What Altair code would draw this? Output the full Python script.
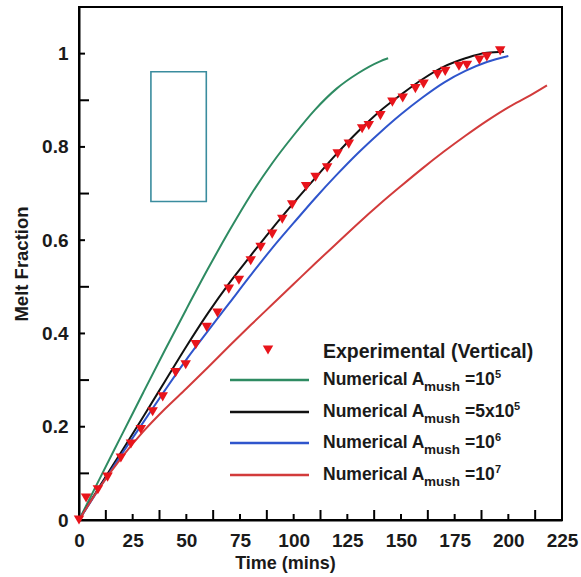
import altair as alt
import pandas as pd

# ---------------- data ----------------
green_time = [0, 10, 20, 30, 40, 50, 60, 70, 80, 90, 100, 110, 120, 130, 140, 144]
green_melt = [0, 0.092, 0.183, 0.274, 0.364, 0.452, 0.538, 0.62, 0.697, 0.765, 0.825, 0.88, 0.925, 0.958, 0.983, 0.99]

black_time = [0, 10, 20, 30, 40, 50, 60, 70, 80, 90, 100, 110, 120, 130, 140, 150, 160, 170, 180, 190, 198]
black_melt = [0, 0.075, 0.148, 0.222, 0.297, 0.372, 0.443, 0.508, 0.567, 0.625, 0.68, 0.733, 0.785, 0.833,
              0.876, 0.912, 0.945, 0.972, 0.99, 1.002, 1.004]

blue_time = [0, 10, 20, 30, 40, 50, 60, 70, 80, 90, 100, 110, 120, 130, 140, 150, 160, 170, 180, 190, 200]
blue_melt = [0, 0.072, 0.142, 0.21, 0.278, 0.344, 0.405, 0.465, 0.525, 0.583, 0.637, 0.69, 0.74, 0.787,
             0.83, 0.87, 0.906, 0.938, 0.963, 0.982, 0.995]

red_time = [0, 10, 20, 30, 40, 50, 60, 70, 80, 90, 100, 110, 120, 130, 140, 150, 160, 170, 180, 190, 200, 210, 218]
red_melt = [0, 0.072, 0.135, 0.19, 0.238, 0.282, 0.327, 0.373, 0.418, 0.462, 0.506, 0.55, 0.593, 0.636,
            0.677, 0.716, 0.754, 0.79, 0.824, 0.856, 0.885, 0.91, 0.932]

exp_time = [0, 3.3, 8.8, 13.3, 19.5, 24.2, 28.8, 34.3, 39, 45, 49.7, 54.4, 59.5, 64.5, 69.8, 74.5, 80, 84.6,
            90, 94.7, 99.3, 105.8, 110.2, 115.6, 120.5, 125.7, 131.9, 135, 140.4, 146, 150.8, 156.7, 160.5,
            167, 170.6, 177, 180.7, 186.5, 190, 196.2]
exp_melt = [0, 0.047, 0.065, 0.092, 0.133, 0.163, 0.194, 0.232, 0.264, 0.316, 0.333, 0.376, 0.413, 0.444,
            0.495, 0.514, 0.556, 0.585, 0.613, 0.645, 0.676, 0.715, 0.735, 0.755, 0.785, 0.806, 0.839, 0.846,
            0.867, 0.896, 0.905, 0.925, 0.935, 0.955, 0.962, 0.973, 0.975, 0.986, 0.993, 1.006]

box_time = [33.5, 59.3]
box_melt = [0.683, 0.961]

series_names = ["Numerical Amush=10^5", "Numerical Amush=5x10^5", "Numerical Amush=10^6", "Numerical Amush=10^7"]
x_tick_labels = [0, 25, 50, 75, 100, 125, 150, 175, 200, 225]
y_tick_labels = [0, 0.2, 0.4, 0.6, 0.8, 1.0]
x_minor = [12.5, 37.5, 62.5, 87.5, 112.5, 137.5, 162.5, 187.5, 212.5]
x_major = [25, 50, 75, 100, 125, 150, 175, 200]
y_minor = [0.1, 0.3, 0.5, 0.7, 0.9]
y_major = [0.2, 0.4, 0.6, 0.8, 1.0]

# ---------------- styles / layout ----------------
W, H = 483, 513
FONT = "Liberation Sans"
TXT = "#1a1a1a"
colors = ["#2e8b62", "#111111", "#2f55cc", "#d23b3b"]
EXP_COLOR = "#e8141b"
TRI_SIZE = 110

frames = []
for name, t, m in zip(series_names, [green_time, black_time, blue_time, red_time],
                      [green_melt, black_melt, blue_melt, red_melt]):
    frames.append(pd.DataFrame({"time": t, "melt": m, "series": name}))
lines_df = pd.concat(frames, ignore_index=True)
exp_df = pd.DataFrame({"time": exp_time, "melt": exp_melt})
box_df = pd.DataFrame({"x0": [box_time[0]], "x1": [box_time[1]], "y0": [box_melt[0]], "y1": [box_melt[1]]})

xs = alt.Scale(domain=[0, 225], nice=False, zero=False)
ys = alt.Scale(domain=[0, 1.1], nice=False, zero=False)

x_main = alt.Axis(values=x_tick_labels, ticks=False, tickSize=0, grid=False, labelFlush=False,
                  labelOverlap=False, labelFont=FONT, labelFontSize=19, labelFontWeight="bold",
                  labelColor=TXT, labelPadding=11, domainColor="black", domainWidth=2,
                  title="Time (mins)", titleFont=FONT, titleFontSize=18, titleFontWeight="bold",
                  titleColor=TXT, titleX=206, titleY=43, titleAlign="center", titleBaseline="middle")
y_main = alt.Axis(values=y_tick_labels, ticks=False, tickSize=0, grid=False, labelOverlap=False,
                  labelExpr="datum.value == 0 ? '0' : (datum.value == 1 ? '1' : format(datum.value, '.1f'))",
                  labelFont=FONT, labelFontSize=19, labelFontWeight="bold", labelColor=TXT,
                  labelPadding=11, domainColor="black", domainWidth=2,
                  title="Melt Fraction", titleFont=FONT, titleFontSize=18.5, titleFontWeight="bold",
                  titleColor=TXT, titlePadding=10)


def X(field):
    return alt.X(field, scale=xs, axis=x_main, title="Time (mins)")


def Y(field):
    return alt.Y(field, scale=ys, axis=y_main, title="Melt Fraction")


lines = alt.Chart(lines_df).mark_line(strokeWidth=2, interpolate="monotone").encode(
    x=X("time:Q"),
    y=Y("melt:Q"),
    color=alt.Color("series:N", scale=alt.Scale(domain=series_names, range=colors), legend=None),
)

pts = alt.Chart(exp_df).mark_point(shape="triangle-down", filled=True, size=TRI_SIZE, color=EXP_COLOR,
                                   opacity=1).encode(x=X("time:Q"), y=Y("melt:Q"))

box = alt.Chart(box_df).mark_rect(filled=False, stroke="#3a8c9e", strokeWidth=1.6).encode(
    x=X("x0:Q"), x2="x1:Q", y=Y("y0:Q"), y2="y1:Q")

# ---------------- inward tick marks (positions from the tick arrays) ----------------
tick_layers = []
for vals, length in [(x_minor, 10), (x_major, 6)]:
    tick_layers.append(alt.Chart(pd.DataFrame({"v": vals})).mark_rule(color="black", strokeWidth=2).encode(
        x=X("v:Q"), y=alt.value(H), y2=alt.value(H - length)))
for vals, length in [(y_minor, 10), (y_major, 6)]:
    tick_layers.append(alt.Chart(pd.DataFrame({"v": vals})).mark_rule(color="black", strokeWidth=2).encode(
        y=Y("v:Q"), x=alt.value(0), x2=alt.value(length)))

# ---------------- manual legend (pixel layout inside the plot) ----------------
one = pd.DataFrame({"a": [0]})
legend_layers = []
legend_layers.append(alt.Chart(one).mark_point(shape="triangle-down", filled=True, size=TRI_SIZE,
                                               color=EXP_COLOR, opacity=1).encode(
    x=alt.value(189), y=alt.value(343)))
legend_layers.append(alt.Chart(one).mark_text(align="left", baseline="middle", font=FONT, fontSize=19.5,
                                              fontWeight="bold", color=TXT).encode(
    x=alt.value(244), y=alt.value(345), text=alt.value("Experimental (Vertical)")))

row_y = [373, 405, 436, 468]
eq_txt = ["=10", "=5x10", "=10", "=10"]
eq_w = [30, 49, 30, 30]
sup_txt = ["5", "5", "6", "7"]
EQ_X = 386
for i in range(4):
    y = row_y[i]
    legend_layers.append(alt.Chart(one).mark_rule(strokeWidth=2.5, color=colors[i]).encode(
        x=alt.value(151), x2=alt.value(230), y=alt.value(y)))
    legend_layers.append(alt.Chart(one).mark_text(align="left", baseline="middle", font=FONT,
                                                  fontSize=17.5, fontWeight="bold", color=TXT).encode(
        x=alt.value(244), y=alt.value(y), text=alt.value("Numerical A")))
    legend_layers.append(alt.Chart(one).mark_text(align="left", baseline="middle", font=FONT,
                                                  fontSize=13.5, fontWeight="bold", color=TXT).encode(
        x=alt.value(345), y=alt.value(y + 7), text=alt.value("mush")))
    legend_layers.append(alt.Chart(one).mark_text(align="left", baseline="middle", font=FONT,
                                                  fontSize=17.5, fontWeight="bold", color=TXT).encode(
        x=alt.value(EQ_X), y=alt.value(y), text=alt.value(eq_txt[i])))
    legend_layers.append(alt.Chart(one).mark_text(align="left", baseline="middle", font=FONT,
                                                  fontSize=11, fontWeight="bold", color=TXT).encode(
        x=alt.value(EQ_X + eq_w[i]), y=alt.value(y - 5), text=alt.value(sup_txt[i])))

chart = alt.layer(lines, box, *tick_layers, pts, *legend_layers).properties(
    width=W, height=H,
    padding={"left": 79, "top": 7, "right": 19, "bottom": 57},
    autosize=alt.AutoSizeParams(type="none"),
    background="white",
).configure_view(stroke="black", strokeWidth=2)

chart.save("out.html", embed_options={"renderer": "svg", "actions": False})
